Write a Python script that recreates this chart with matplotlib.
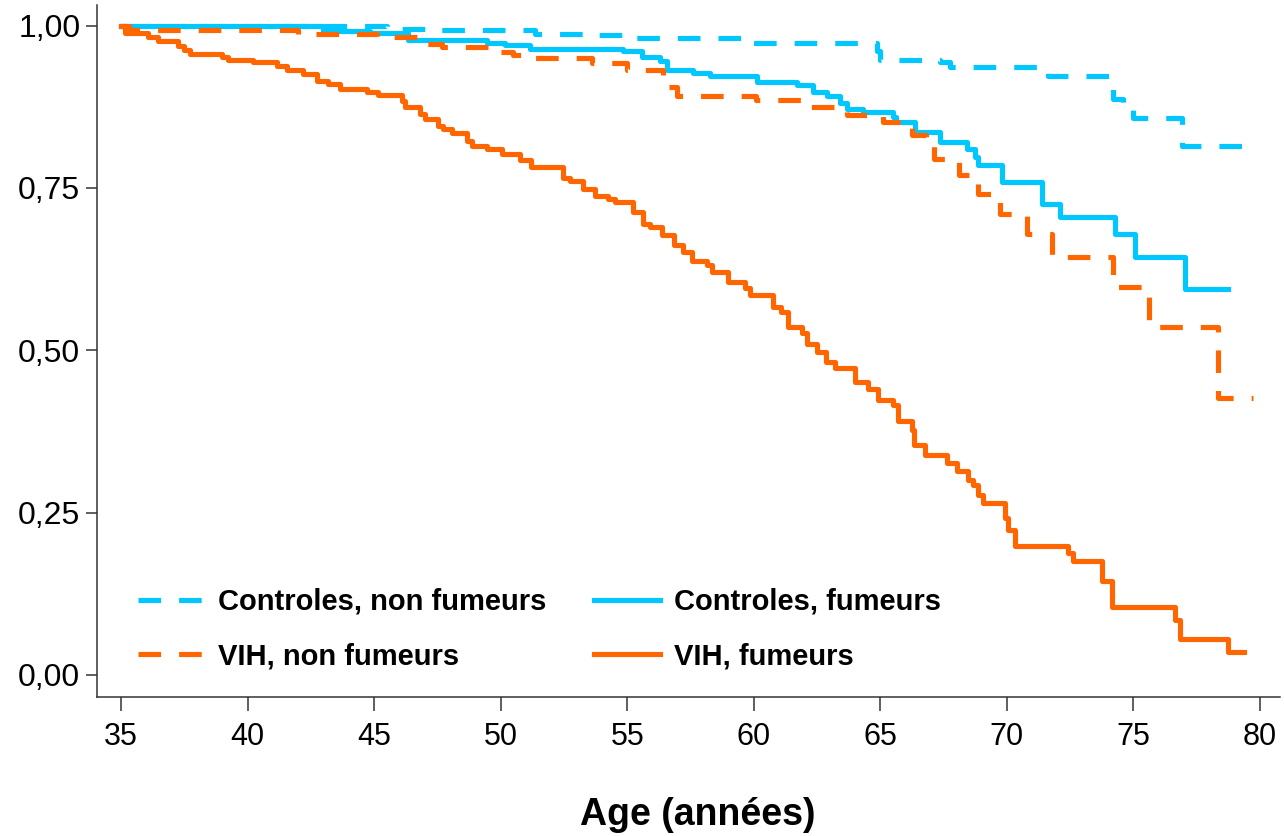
import numpy as np
import matplotlib
matplotlib.use("Agg")
import matplotlib.pyplot as plt

# Survival curves (Kaplan-Meier style step data)
# each list: times where the curve drops, and the survival value after the drop
ctrl_nf_t = [35.0, 45.5, 47.0, 51.36, 53.4, 54.98, 59.65, 64.86, 65.0, 67.36, 67.76,
             71.63, 74.2, 74.6, 74.99, 76.9, 79.72]
ctrl_nf_s = [1.0, 0.995, 0.993, 0.987, 0.985, 0.981, 0.973, 0.960, 0.947, 0.944, 0.936,
             0.922, 0.887, 0.877, 0.858, 0.815, 0.815]

ctrl_f_t = [35.0, 42.98, 44.84, 46.34, 49.45, 50.17, 51.16, 54.84, 55.6, 56.3, 56.57,
            57.6, 58.27, 60.12, 61.7, 62.35, 62.9, 63.4, 63.68, 64.3, 65.5, 65.6,
            66.37, 67.36, 68.41, 68.74, 68.85, 69.8, 71.38, 72.1, 74.27, 75.06, 77.04, 78.75]
ctrl_f_s = [1.0, 0.992, 0.988, 0.978, 0.973, 0.970, 0.964, 0.960, 0.951, 0.946, 0.931,
            0.927, 0.922, 0.913, 0.908, 0.897, 0.892, 0.880, 0.872, 0.867, 0.859, 0.851,
            0.836, 0.820, 0.810, 0.797, 0.785, 0.759, 0.725, 0.705, 0.679, 0.644, 0.595, 0.595]

vih_nf_t = [35.0, 35.3, 42.0, 45.1, 47.0, 47.7, 49.7, 50.5, 51.0, 53.6, 55.0, 56.4,
            56.97, 60.1, 62.0, 63.7, 65.1, 66.25, 66.8, 67.1, 68.1, 68.86, 69.73,
            70.78, 71.8, 74.2, 75.6, 78.35, 79.72]
vih_nf_s = [1.0, 0.993, 0.987, 0.982, 0.972, 0.967, 0.959, 0.954, 0.950, 0.943, 0.931, 0.905,
            0.891, 0.885, 0.874, 0.862, 0.851, 0.831, 0.820, 0.795, 0.770, 0.740, 0.709,
            0.679, 0.643, 0.597, 0.536, 0.427, 0.427]

vih_f_t = [35.0, 35.15, 36.08, 36.47, 37.26, 37.5, 37.73, 38.98, 39.24, 40.23, 41.15,
           41.55, 42.2, 42.73, 43.19, 43.65, 44.71, 45.17, 46.09, 46.2, 46.81, 47.01,
           47.54, 47.73, 48.07, 48.66, 48.86, 49.46, 50.05, 50.76, 51.2, 52.46, 52.74,
           53.25, 53.73, 54.24, 54.52, 55.23, 55.62, 55.9, 56.37, 56.85, 57.2, 57.56,
           58.15, 58.35, 58.98, 59.65, 59.85, 60.76, 61.08, 61.35, 61.91, 62.1, 62.5,
           62.85, 63.21, 64.0, 64.51, 64.9, 65.5, 65.7, 66.25, 66.33, 66.77, 67.64,
           68.03, 68.46, 68.66, 68.86, 69.06, 69.93, 70.05, 70.32, 72.42, 72.61, 73.76,
           74.15, 76.64, 76.84, 78.74, 79.37]
vih_f_s = [1.0, 0.988, 0.982, 0.976, 0.968, 0.962, 0.956, 0.951, 0.947, 0.944, 0.937,
           0.931, 0.925, 0.915, 0.910, 0.902, 0.897, 0.893, 0.884, 0.874, 0.863, 0.856,
           0.846, 0.840, 0.834, 0.822, 0.815, 0.810, 0.802, 0.793, 0.782, 0.765, 0.760,
           0.749, 0.738, 0.733, 0.729, 0.713, 0.695, 0.690, 0.677, 0.662, 0.651, 0.638,
           0.631, 0.620, 0.605, 0.596, 0.585, 0.567, 0.559, 0.536, 0.526, 0.510, 0.497,
           0.482, 0.472, 0.451, 0.441, 0.423, 0.415, 0.391, 0.377, 0.354, 0.338, 0.326,
           0.314, 0.300, 0.292, 0.277, 0.264, 0.241, 0.223, 0.199, 0.187, 0.175, 0.144,
           0.105, 0.085, 0.055, 0.035, 0.035]

labels = ["Controles, non fumeurs", "VIH, non fumeurs", "Controles, fumeurs", "VIH, fumeurs"]
x_ticks = [35, 40, 45, 50, 55, 60, 65, 70, 75, 80]
y_ticks = [0.0, 0.25, 0.5, 0.75, 1.0]
y_ticklabels = ["0,00", "0,25", "0,50", "0,75", "1,00"]

CYAN = "#00c8ff"
ORANGE = "#ff6600"
DASH = (0, (4.4, 3.5))

plt.rcParams["font.family"] = ["Liberation Sans", "DejaVu Sans"]

fig = plt.figure(figsize=(12.84, 8.36), dpi=100)
ax = fig.add_axes([97 / 1284, 1 - 697 / 836, (1280 - 97) / 1284, (697 - 5) / 836])

lw = 3.7
style = dict(where="post", lw=lw, solid_joinstyle="round", dash_joinstyle="round")
l1, = ax.step(ctrl_nf_t, ctrl_nf_s, color=CYAN, linestyle=DASH, **style)
l3, = ax.step(ctrl_f_t, ctrl_f_s, color=CYAN, **style)
l2, = ax.step(vih_nf_t, vih_nf_s, color=ORANGE, linestyle=DASH, **style)
l4, = ax.step(vih_f_t, vih_f_s, color=ORANGE, **style)

ax.set_xlim(34.05, 80.79)
ax.set_ylim(-0.034, 1.0316)
ax.set_xticks(x_ticks)
ax.set_xticklabels([str(t) for t in x_ticks])
ax.set_yticks(y_ticks)
ax.set_yticklabels(y_ticklabels)

for side in ["top", "right"]:
    ax.spines[side].set_visible(False)
for side in ["left", "bottom"]:
    ax.spines[side].set_color("#333333")
    ax.spines[side].set_linewidth(1.1)

ax.tick_params(axis="x", direction="out", length=10, width=1.1, color="#333333",
               labelsize=22, pad=8)
ax.tick_params(axis="y", direction="out", length=8, width=1.1, color="#333333",
               labelsize=23, pad=4)

fig.text(698 / 1284, 1 - 815 / 836, "Age (années)", ha="center", va="center",
         fontsize=27, fontweight="bold")

leg = ax.legend([l1, l2, l3, l4], labels, ncol=2, loc="lower left",
                bbox_to_anchor=(0.0347, 0.039), frameon=False, borderpad=0,
                borderaxespad=0, handlelength=2.26, handletextpad=0.48,
                columnspacing=1.65, labelspacing=0.9,
                prop={"size": 21, "weight": "bold"})

fig.savefig("out.png", dpi=100)
